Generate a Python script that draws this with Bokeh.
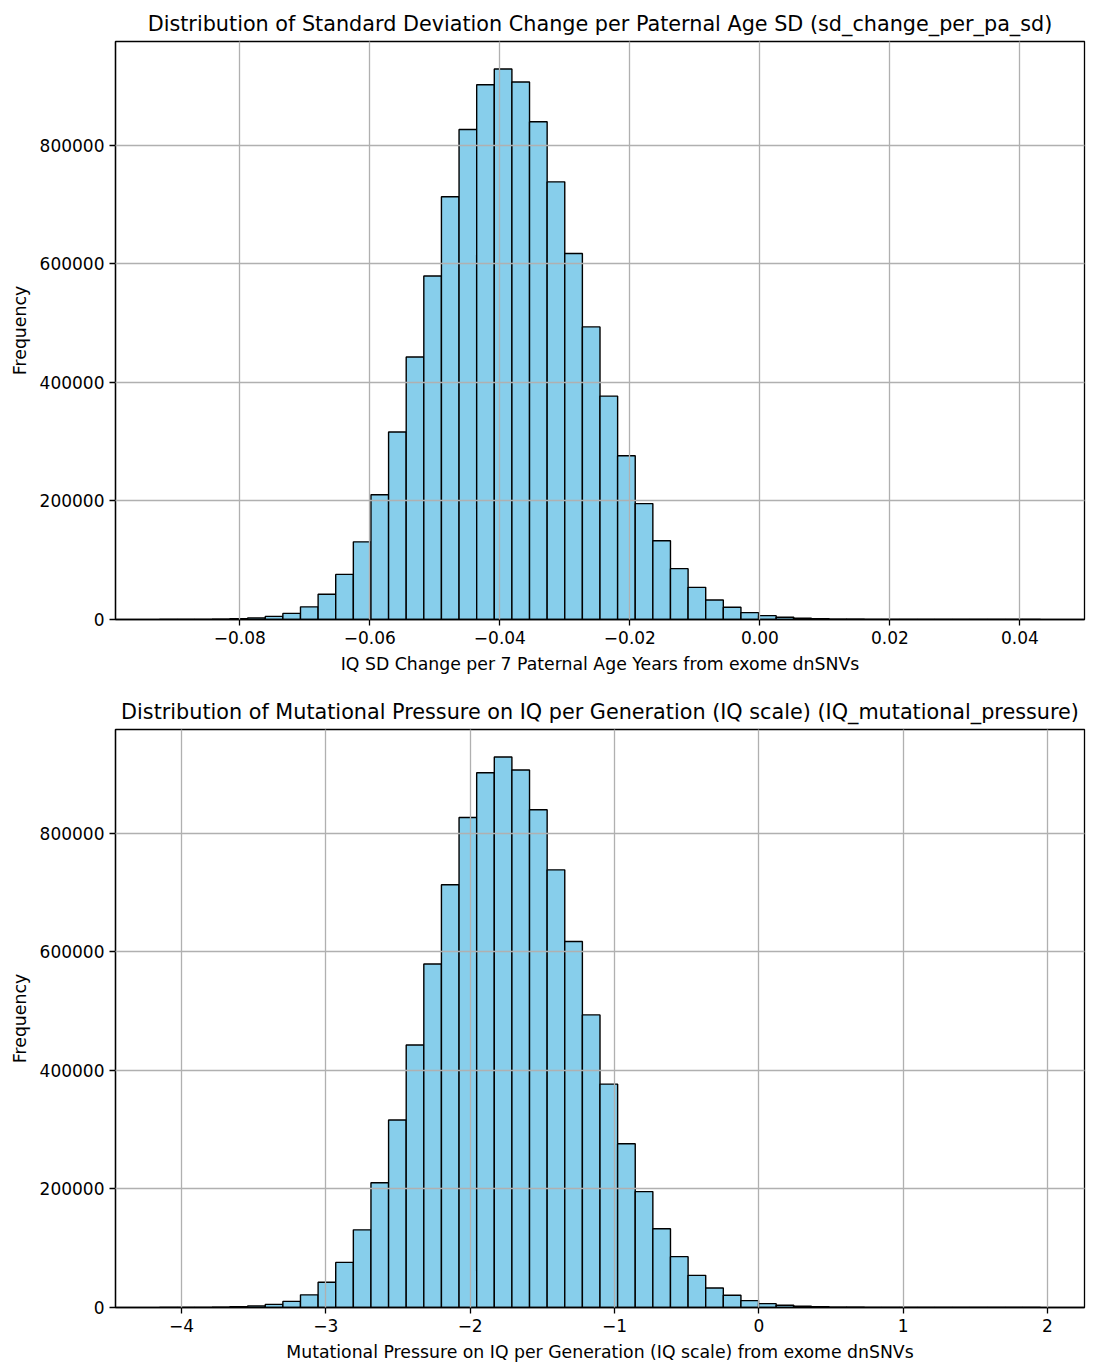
import numpy as np
from bokeh.plotting import figure
from bokeh.layouts import column
from bokeh.models import Range1d, FixedTicker, ColumnDataSource
from bokeh.embed import file_html
from bokeh.resources import INLINE

# ---- data ----
counts = [40, 100, 250, 600, 1500, 2700, 5200, 10300, 21300, 42600,
          76100, 131000, 210300, 316100, 442600, 579400, 712900, 826500, 901900, 928400,
          906500, 839400, 738100, 617400, 493500, 376800, 276100, 195500, 132900, 85800,
          54200, 32900, 20600, 11600, 6500, 3900, 2000, 1200, 700, 400,
          200, 100, 60, 30, 15, 8, 4, 2, 1, 1]

sd_min, sd_max = -0.09235, 0.04315
iq_min, iq_max = -4.152, 1.951
n_bins = 50

sd_ticks = [-0.08, -0.06, -0.04, -0.02, 0.00, 0.02, 0.04]
sd_tick_labels = ["\u22120.08", "\u22120.06", "\u22120.04", "\u22120.02", "0.00", "0.02", "0.04"]
iq_ticks = [-4, -3, -2, -1, 0, 1, 2]
iq_tick_labels = ["\u22124", "\u22123", "\u22122", "\u22121", "0", "1", "2"]
y_ticks = [0, 200000, 400000, 600000, 800000]
y_tick_labels = ["0", "200000", "400000", "600000", "800000"]

titles = ["Distribution of Standard Deviation Change per Paternal Age SD (sd_change_per_pa_sd)",
          "Distribution of Mutational Pressure on IQ per Generation (IQ scale) (IQ_mutational_pressure)"]
xlabels = ["IQ SD Change per 7 Paternal Age Years from exome dnSNVs",
           "Mutational Pressure on IQ per Generation (IQ scale) from exome dnSNVs"]

FONT = "DejaVu Sans"


def make_hist(lo, hi, ticks, tick_labels, title, xlabel, border_top, height):
    edges = np.linspace(lo, hi, n_bins + 1)
    src = ColumnDataSource(dict(left=edges[:-1], right=edges[1:],
                                top=counts, bottom=[0] * n_bins))
    pad = 0.05 * (hi - lo)
    ymax = max(counts) * 1.05
    p = figure(width=1109, height=height, output_backend="svg", toolbar_location=None,
               x_range=Range1d(lo - pad, hi + pad), y_range=Range1d(0, ymax),
               min_border_left=115, min_border_right=25, min_border_top=border_top,
               min_border_bottom=61)
    p.quad(left="left", right="right", top="top", bottom="bottom", source=src,
           fill_color="#87CEEB", line_color="black", line_width=1.4)
    p.title.text = title
    p.title.text_font = FONT
    p.title.text_font_size = "20.75px"
    p.title.text_font_style = "normal"
    p.title.align = "center"
    p.title.text_color = "black"
    p.title.standoff = 12

    p.xaxis.ticker = FixedTicker(ticks=ticks)
    p.xaxis.major_label_overrides = {t: l for t, l in zip(ticks, tick_labels)}
    p.yaxis.ticker = FixedTicker(ticks=y_ticks)
    p.yaxis.major_label_overrides = {t: l for t, l in zip(y_ticks, y_tick_labels)}
    p.xaxis.axis_label = xlabel
    p.yaxis.axis_label = "Frequency"
    for ax in (p.xaxis[0], p.yaxis[0]):
        ax.major_label_text_font = FONT
        ax.major_label_text_font_size = "17px"
        ax.major_label_text_color = "black"
        ax.axis_label_text_font = FONT
        ax.axis_label_text_font_size = "17.3px"
        ax.axis_label_text_font_style = "normal"
        ax.axis_label_text_color = "black"
        ax.minor_tick_line_color = None
        ax.major_tick_in = 0
        ax.major_tick_out = 6
        ax.major_tick_line_color = "black"
        ax.major_tick_line_width = 1.3
        ax.axis_line_color = "black"
        ax.axis_line_width = 1.3
        ax.major_label_standoff = 5
    p.xaxis.axis_label_standoff = 7
    p.yaxis.axis_label_standoff = 7
    p.yaxis.major_label_orientation = "horizontal"
    for g in (p.xgrid[0], p.ygrid[0]):
        g.grid_line_color = "#b0b0b0"
        g.grid_line_width = 1.3
        g.level = "overlay"
    p.xgrid.ticker = FixedTicker(ticks=ticks)
    p.ygrid.ticker = FixedTicker(ticks=y_ticks)
    p.outline_line_color = "black"
    p.outline_line_width = 1.3
    p.outline_line_alpha = 1.0
    p.background_fill_color = "white"
    p.border_fill_color = "white"
    return p


p1 = make_hist(sd_min, sd_max, sd_ticks, sd_tick_labels, titles[0], xlabels[0], 41, 680)
p2 = make_hist(iq_min, iq_max, iq_ticks, iq_tick_labels, titles[1], xlabels[1], 49, 688)

layout = column(p1, p2, spacing=0)
open("out.html", "w").write(file_html(layout, INLINE))
